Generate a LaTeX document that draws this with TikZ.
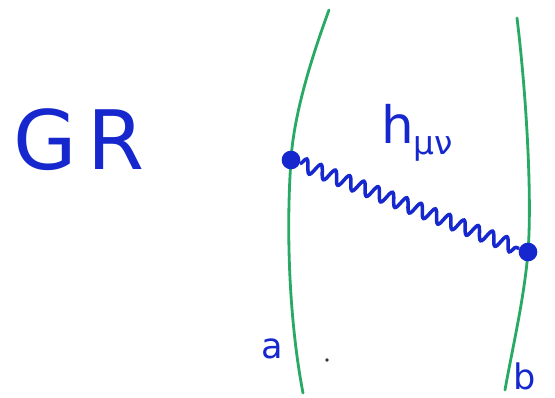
\documentclass[tikz,border=0pt]{standalone}
\usepackage{fontspec}
\setmainfont{DejaVu Sans}
\usetikzlibrary{decorations.pathmorphing}
\definecolor{ink}{RGB}{22,40,205}
\definecolor{wline}{RGB}{40,170,100}

\begin{document}
\begin{tikzpicture}[x=0.03cm,y=-0.03cm,
  dot/.style={circle,fill=ink,inner sep=0pt,minimum size=0.56cm},
  lbl/.style={text=ink,inner sep=0pt}]
\useasboundingbox (0,0) rectangle (555,398);
\draw[wline,line width=2.4pt,line cap=round] (329,10) .. controls (305,75) and (293,125) .. (291,160)
  .. controls (286,230) and (289,320) .. (303,393);
\draw[wline,line width=2.4pt,line cap=round] (517,18) .. controls (527,100) and (532,200) .. (528,252)
  .. controls (524,300) and (512,350) .. (505,390);
\node[dot] (va) at (291,160) {};
\node[dot] (vb) at (528,252) {};
\draw[ink,line width=3pt,decorate,decoration={snake,amplitude=2mm,segment length=4.6mm}] (va) -- (vb);
\node[lbl,font=\fontsize{70}{72}\selectfont] (gr) at (79,140) {G\hspace{0.12em}R};
\node[lbl,font=\fontsize{44}{46}\selectfont,anchor=base west] (h) at (381,144)
  {h\raisebox{-0.2em}{\fontsize{28}{30}\selectfont μν}};
\node[lbl,font=\fontsize{30}{32}\selectfont] (a) at (272,349) {a};
\node[lbl,font=\fontsize{30}{32}\selectfont] (b) at (525,376) {b};
\fill[black!80] (327,360) circle (1.8);
\end{tikzpicture}
\end{document}
